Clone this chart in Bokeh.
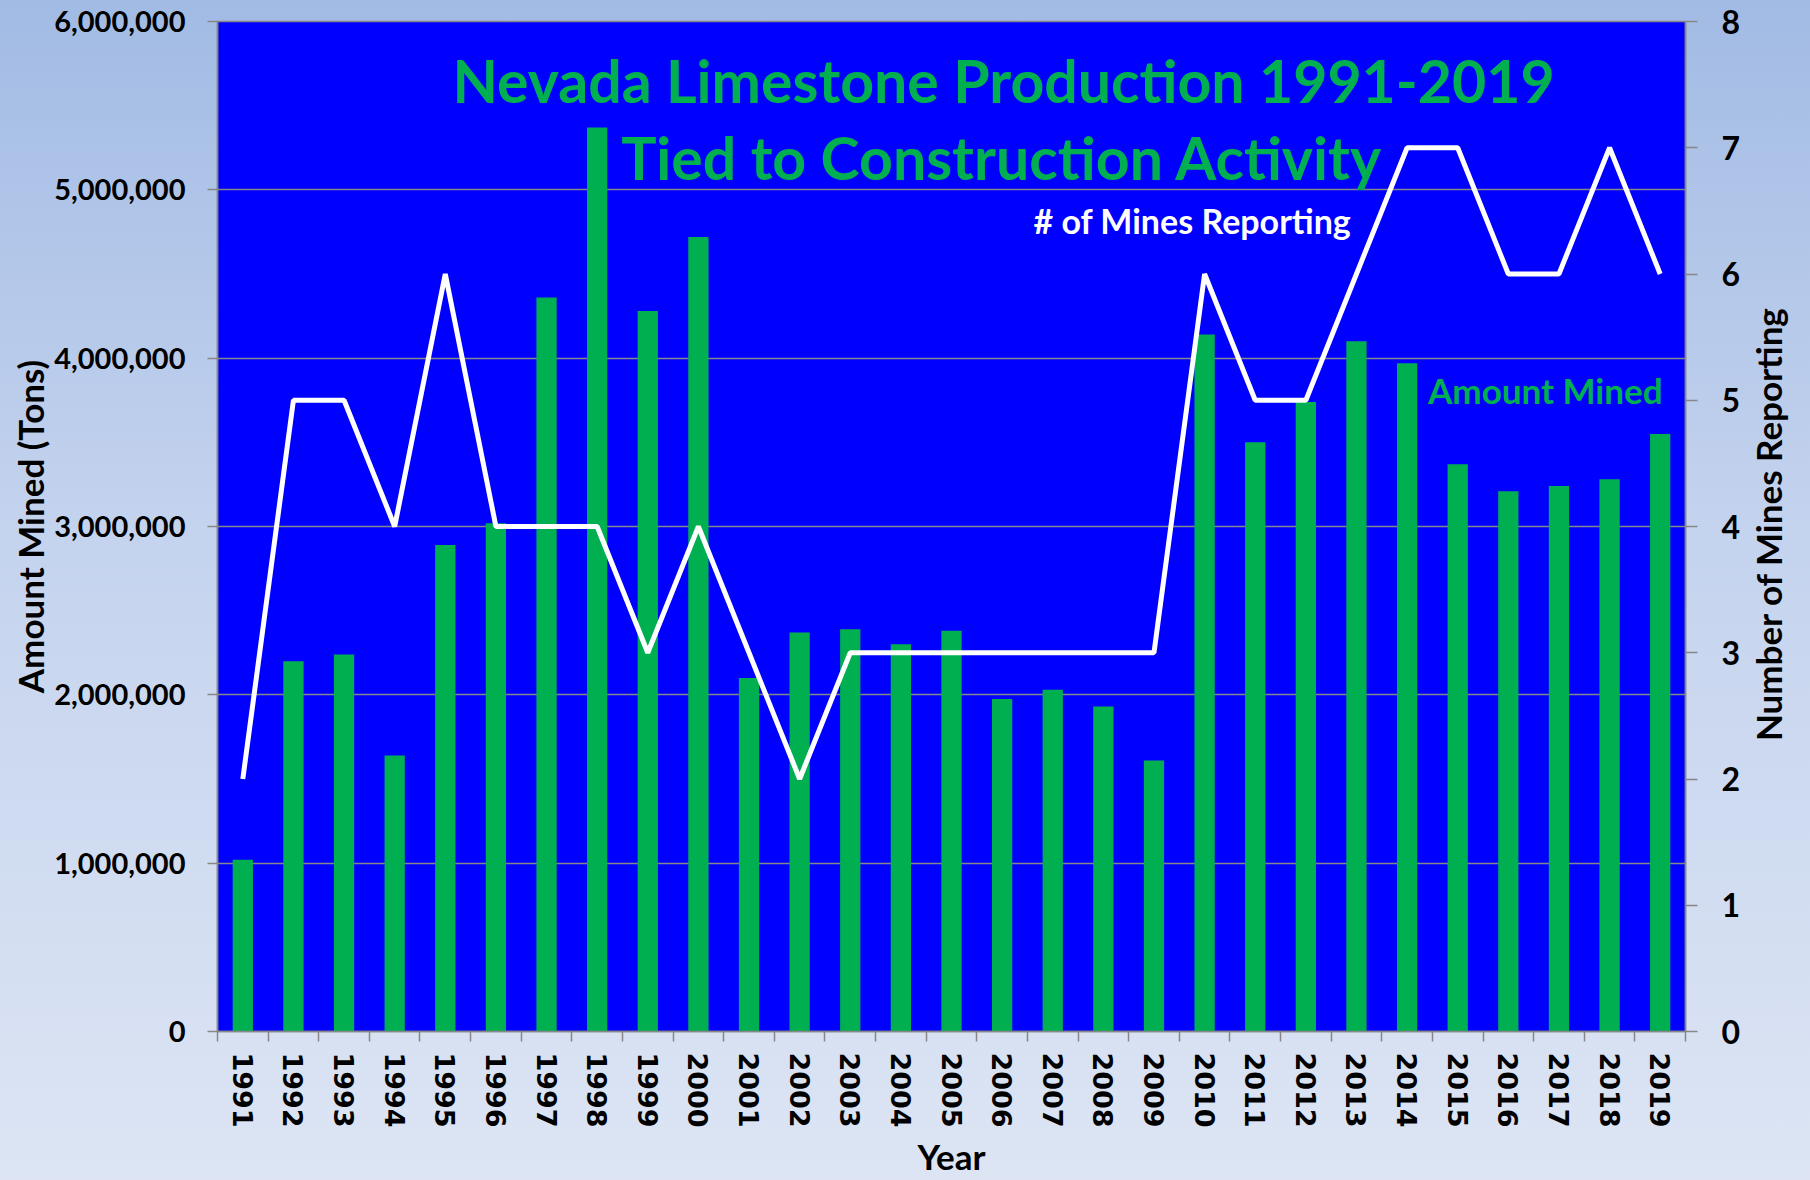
import math
from bokeh.plotting import figure
from bokeh.layouts import row
from bokeh.models import (Range1d, LinearAxis, FixedTicker, NumeralTickFormatter, Label,
                          GlobalInlineStyleSheet)
from bokeh.embed import file_html
from bokeh.resources import INLINE

# ---------------- data ----------------
years = list(range(1991, 2020))
amount_mined = [1020000, 2200000, 2240000, 1640000, 2890000, 3020000, 4360000, 5370000,
                4280000, 4720000, 2100000, 2370000, 2390000, 2300000, 2380000, 1975000,
                2030000, 1930000, 1610000, 4140000, 3500000, 3740000, 4100000, 3970000,
                3370000, 3210000, 3240000, 3280000, 3550000]
mines_reporting = [2, 5, 5, 4, 6, 4, 4, 4, 3, 4, 3, 2, 3, 3, 3, 3, 3, 3, 3, 6,
                   5, 5, 6, 7, 7, 6, 6, 7, 6]
left_ticks = [0, 1000000, 2000000, 3000000, 4000000, 5000000, 6000000]
right_ticks = [0, 1, 2, 3, 4, 5, 6, 7, 8]

title_line1 = "Nevada Limestone Production 1991-2019"
title_line2 = "Tied to Construction Activity"
line_label = "# of Mines Reporting"
bar_label = "Amount Mined"
x_title = "Year"
left_title = "Amount Mined (Tons)"
right_title = "Number of Mines Reporting"

# ---------------- styles ----------------
FONT = "Lato"
GREEN = "#00B050"
GREY = "#878787"

page_css = GlobalInlineStyleSheet(css="""
html { min-height: 100%; background: linear-gradient(to bottom, #a2bbe4 0%, #c4d3ee 45%, #dde5f4 100%); }
body { background: transparent; }
""")

MAIN_W = 1745
p = figure(width=MAIN_W, height=1180,
           x_range=Range1d(1990.5, 2019.5), y_range=Range1d(0, 6000000),
           output_backend="svg", toolbar_location=None,
           min_border_left=217, min_border_right=MAIN_W - 1685,
           min_border_top=21, min_border_bottom=149)
p.stylesheets = [page_css]
p.border_fill_color = None
p.background_fill_color = "#0000FF"
p.outline_line_color = GREY
p.outline_line_width = 1.5

p.extra_y_ranges = {"mines": Range1d(0, 8)}

# bars and line
p.vbar(x=years, top=amount_mined, width=0.4, fill_color=GREEN, line_color=None)
p.line(x=years, y=mines_reporting, y_range_name="mines", line_color="white", line_width=5)

# grid
p.xgrid.visible = False
p.ygrid.ticker = FixedTicker(ticks=left_ticks)
p.ygrid.grid_line_color = GREY
p.ygrid.grid_line_width = 1.5

# x axis
xa = p.xaxis[0]
xa.ticker = FixedTicker(ticks=years, minor_ticks=[y - 0.5 for y in years] + [years[-1] + 0.5])
xa.major_tick_line_color = None
xa.major_tick_out = 10
xa.major_tick_in = 0
xa.minor_tick_line_color = GREY
xa.minor_tick_line_width = 1.5
xa.minor_tick_out = 10
xa.minor_tick_in = 0
xa.axis_line_color = GREY
xa.axis_line_width = 1.5
xa.major_label_orientation = "vertical"
xa.major_label_text_font = "DejaVu Sans"
xa.major_label_text_font_style = "bold"
xa.major_label_text_font_size = "27px"
xa.major_label_text_color = "black"
xa.major_label_standoff = 11
xa.axis_label = x_title
xa.axis_label_text_font = FONT
xa.axis_label_text_font_style = "bold"
xa.axis_label_text_font_size = "35px"
xa.axis_label_text_line_height = 1.0
xa.axis_label_text_color = "black"
xa.axis_label_standoff = 4

# left axis
ya = p.yaxis[0]
ya.ticker = FixedTicker(ticks=left_ticks)
ya.formatter = NumeralTickFormatter(format="0,0")
ya.major_tick_line_color = GREY
ya.major_tick_line_width = 1.5
ya.major_tick_out = 10
ya.major_tick_in = 0
ya.minor_tick_line_color = None
ya.axis_line_color = GREY
ya.axis_line_width = 1.5
ya.major_label_text_font = FONT
ya.major_label_text_font_style = "bold"
ya.major_label_text_font_size = "29px"
ya.major_label_text_color = "black"
ya.major_label_standoff = 22
ya.axis_label = left_title
ya.axis_label_text_font = FONT
ya.axis_label_text_font_style = "bold"
ya.axis_label_text_font_size = "35px"
ya.axis_label_text_color = "black"
ya.axis_label_standoff = 0

# right axis
ra = LinearAxis(y_range_name="mines", ticker=FixedTicker(ticks=right_ticks))
ra.major_tick_line_color = GREY
ra.major_tick_line_width = 1.5
ra.major_tick_out = 12
ra.major_tick_in = 0
ra.minor_tick_line_color = None
ra.axis_line_color = GREY
ra.axis_line_width = 1.5
ra.major_label_text_font = FONT
ra.major_label_text_font_style = "bold"
ra.major_label_text_font_size = "32px"
ra.major_label_text_color = "black"
ra.major_label_standoff = 24
p.add_layout(ra, "right")

# in-plot texts
def add_text(txt, x, y, size, color):
    p.add_layout(Label(x=x, y=y, text=txt, text_align="center", text_baseline="middle",
                       text_font=FONT, text_font_style="bold", text_font_size=size,
                       text_color=color))

add_text(title_line1, 2006.03, 5650000, "59px", GREEN)
add_text(title_line2, 2006.0, 5190000, "59px", GREEN)
add_text(line_label, 2009.76, 4820000, "34px", "white")
add_text(bar_label, 2016.73, 3810000, "35px", GREEN)

# narrow side figure holding the right axis title (reads bottom to top)
SIDE_W = 1810 - MAIN_W
q = figure(width=SIDE_W, height=1180, x_range=Range1d(0, SIDE_W), y_range=Range1d(0, 1180),
           output_backend="svg", toolbar_location=None, min_border=0)
q.axis.visible = False
q.grid.visible = False
q.outline_line_color = None
q.border_fill_color = None
q.background_fill_color = None
q.add_layout(Label(x=22, y=593, text=right_title,
                   angle=math.pi / 2, text_align="center", text_baseline="middle",
                   text_font=FONT, text_font_style="bold", text_font_size="35px",
                   text_color="black"))

layout = row(p, q, spacing=0)
open("out.html", "w").write(file_html(layout, INLINE))
